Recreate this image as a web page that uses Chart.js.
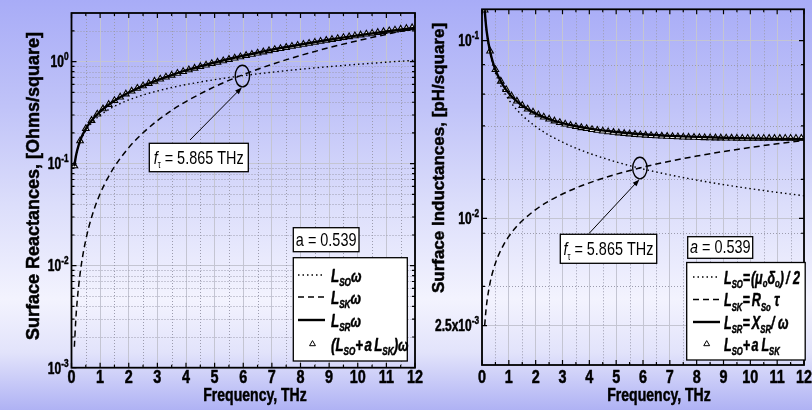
<!DOCTYPE html>
<html>
<head>
<meta charset="utf-8">
<script src="https://cdn.jsdelivr.net/npm/chart.js@4.4.1/dist/chart.umd.min.js"></script>
<style>
  html, body { margin: 0; padding: 0; }
  body {
    width: 812px; height: 410px; overflow: hidden; position: relative;
    background: linear-gradient(to bottom, #a8acf7 0%, #c0c3f8 26%, #dcdefb 50%, #f3f3fe 73%, #e2e3fb 86%, #afb2f4 100%);
  }
  canvas { position: absolute; left: 0; top: 0; }
</style>
</head>
<body>
<canvas id="reactance" width="812" height="410"></canvas>
<canvas id="inductance" width="812" height="410"></canvas>
<script>
// Frequency samples (THz) for the continuous curves
const freqCurve = [0.1, 0.15, 0.2, 0.3, 0.4, 0.5, 0.6, 0.8, 1, 1.25, 1.5, 2, 2.5, 3, 3.5, 4, 5, 6, 7, 8, 9, 10, 11, 12];
// Frequency samples (THz) for the triangle markers
const freqMarks = [0.1, 0.3, 0.5, 0.7, 0.9, 1.1, 1.3, 1.5, 1.7, 1.9, 2.1, 2.3, 2.5, 2.7, 2.9, 3.1, 3.3, 3.5, 3.7, 3.9,
  4.1, 4.3, 4.5, 4.7, 4.9, 5.1, 5.3, 5.5, 5.7, 5.9, 6.1, 6.3, 6.5, 6.7, 6.9, 7.1, 7.3, 7.5, 7.7, 7.9,
  8.1, 8.3, 8.5, 8.7, 8.9, 9.1, 9.3, 9.5, 9.7, 9.9, 10.1, 10.3, 10.5, 10.7, 10.9, 11.1, 11.3, 11.5, 11.7, 11.9];

// Surface reactances, Ohms/square
const reactSO = [0.09424, 0.1154, 0.1333, 0.1632, 0.1885, 0.2107, 0.2308, 0.2665, 0.298, 0.3332, 0.365, 0.4214,
  0.4712, 0.5162, 0.5575, 0.596, 0.6663, 0.7299, 0.7884, 0.8429, 0.894, 0.9424, 0.9884, 1.032];
const reactSK = [0.001607, 0.002952, 0.004545, 0.008349, 0.01285, 0.01796, 0.02361, 0.03636, 0.05081, 0.07101, 0.09334, 0.1437,
  0.2008, 0.264, 0.3327, 0.4065, 0.5681, 0.7468, 0.941, 1.15, 1.372, 1.607, 1.854, 2.112];
const reactSR = [0.09504, 0.1169, 0.1356, 0.1674, 0.195, 0.2199, 0.2429, 0.2853, 0.3244, 0.3703, 0.4142, 0.4982,
  0.5796, 0.6599, 0.7399, 0.8199, 0.9808, 1.143, 1.308, 1.473, 1.64, 1.808, 1.977, 2.146];
const reactMarks = [0.0951, 0.1677, 0.2204, 0.2654, 0.3061, 0.3442, 0.3804, 0.4153, 0.4493, 0.4825,
  0.5152, 0.5475, 0.5794, 0.6112, 0.6427, 0.6742, 0.7055, 0.7368, 0.7681, 0.7994,
  0.8308, 0.8621, 0.8936, 0.9251, 0.9567, 0.9884, 1.020, 1.052, 1.084, 1.116,
  1.149, 1.181, 1.214, 1.246, 1.279, 1.312, 1.345, 1.379, 1.412, 1.446,
  1.479, 1.513, 1.548, 1.582, 1.616, 1.651, 1.686, 1.720, 1.755, 1.791,
  1.826, 1.862, 1.897, 1.933, 1.969, 2.006, 2.042, 2.079, 2.115, 2.152];

// Surface inductances, pH/square
const indSO = [0.147, 0.1201, 0.104, 0.0849, 0.07352, 0.06576, 0.06003, 0.05199, 0.0465, 0.04159, 0.03797, 0.03288,
  0.02941, 0.02685, 0.02486, 0.02325, 0.0208, 0.01898, 0.01758, 0.01644, 0.0155, 0.01471, 0.01402, 0.01342];
const indSK = [0.002507, 0.003071, 0.003546, 0.004343, 0.005014, 0.005606, 0.006141, 0.007091, 0.007928, 0.008864, 0.00971, 0.01121,
  0.01254, 0.01373, 0.01483, 0.01586, 0.01773, 0.01942, 0.02098, 0.02243, 0.02379, 0.02507, 0.0263, 0.02746];
const indSR = [0.1483, 0.1216, 0.1058, 0.0871, 0.07607, 0.06862, 0.06318, 0.05565, 0.05062, 0.04623, 0.04309, 0.03887,
  0.03618, 0.03433, 0.03299, 0.03198, 0.03061, 0.02974, 0.02915, 0.02874, 0.02844, 0.02822, 0.02804, 0.02791];
const indMarks = [0.1484, 0.08724, 0.06878, 0.05915, 0.05307, 0.04882, 0.04566, 0.04320, 0.04124, 0.03963,
  0.03828, 0.03714, 0.03617, 0.03532, 0.03458, 0.03393, 0.03336, 0.03285, 0.03239, 0.03199,
  0.03162, 0.03129, 0.03099, 0.03071, 0.03047, 0.03024, 0.03004, 0.02985, 0.02968, 0.02952,
  0.02938, 0.02925, 0.02913, 0.02903, 0.02893, 0.02884, 0.02876, 0.02868, 0.02862, 0.02856,
  0.02850, 0.02845, 0.02841, 0.02837, 0.02834, 0.02831, 0.02828, 0.02826, 0.02824, 0.02822,
  0.02821, 0.02820, 0.02820, 0.02819, 0.02819, 0.02819, 0.02820, 0.02820, 0.02821, 0.02822];

// Crossover frequency and the values where the two partial curves meet
const fTau = 5.865;
const reactCross = 0.722;
const indCross = 0.0192;
const aFit = '0.539';

// Axis ticks
const freqTicks = [0, 1, 2, 3, 4, 5, 6, 7, 8, 9, 10, 11, 12];
const freqMinor = [0.5, 1.5, 2.5, 3.5, 4.5, 5.5, 6.5, 7.5, 8.5, 9.5, 10.5, 11.5];
const reactMajor = [0.001, 0.01, 0.1, 1];
const reactMinor = [0.002, 0.003, 0.004, 0.005, 0.006, 0.007, 0.008, 0.009,
  0.02, 0.03, 0.04, 0.05, 0.06, 0.07, 0.08, 0.09,
  0.2, 0.3, 0.4, 0.5, 0.6, 0.7, 0.8, 0.9, 2];
const reactLabels = [['10', '-3'], ['10', '-2'], ['10', '-1'], ['10', '0']];
const indMajor = [0.0025, 0.01, 0.1];
const indMinor = [0.00415, 0.00826, 0.0166, 0.0332, 0.05, 0.0733];
const indLabels = [['2.5x10', '-3'], ['10', '-2'], ['10', '-1']];

const FONT = '"Liberation Sans", Arial, Helvetica, sans-serif';

function fontOf(p) { return `${p.st || 'normal'} ${p.s}px ${FONT}`; }

// Draws a run of text pieces (sub/superscripts via dy) on one baseline,
// condensed horizontally by `sq`
function drawRich(ctx, x, y, parts, align, sq) {
  ctx.save();
  ctx.textBaseline = 'alphabetic';
  ctx.textAlign = 'left';
  let w = 0;
  for (const p of parts) { ctx.font = fontOf(p); p._w = ctx.measureText(p.t).width; w += p._w + (p.k || 0); }
  ctx.translate(x, y);
  ctx.scale(sq, 1);
  let cx = align === 'right' ? -w : align === 'center' ? -w / 2 : 0;
  ctx.fillStyle = '#000';
  ctx.strokeStyle = '#000';
  ctx.lineJoin = 'round';
  for (const p of parts) {
    ctx.font = fontOf(p);
    ctx.fillText(p.t, cx, p.dy || 0);
    if ((p.st || '').includes('bold')) { ctx.lineWidth = 0.5; ctx.strokeText(p.t, cx, p.dy || 0); }
    cx += p._w + (p.k || 0);
  }
  ctx.restore();
}

function drawVertical(ctx, x, y, text, size) {
  ctx.save();
  ctx.translate(x, y);
  ctx.rotate(-Math.PI / 2);
  ctx.font = `bold ${size}px ${FONT}`;
  ctx.fillStyle = '#000';
  ctx.strokeStyle = '#000';
  ctx.lineWidth = 0.5;
  ctx.textAlign = 'center';
  ctx.textBaseline = 'middle';
  ctx.fillText(text, 0, 0);
  ctx.strokeText(text, 0, 0);
  ctx.restore();
}

function triangle(ctx, x, y, r) {
  ctx.beginPath();
  ctx.moveTo(x, y - r);
  ctx.lineTo(x + r * 0.866, y + r * 0.5);
  ctx.lineTo(x - r * 0.866, y + r * 0.5);
  ctx.closePath();
  ctx.fillStyle = '#fff';
  ctx.fill();
  ctx.lineWidth = 1;
  ctx.strokeStyle = '#000';
  ctx.setLineDash([]);
  ctx.stroke();
}

function boxRect(ctx, x, y, w, h) {
  ctx.fillStyle = '#fff';
  ctx.fillRect(x, y, w, h);
  ctx.strokeStyle = '#000';
  ctx.lineWidth = 1.3;
  ctx.setLineDash([]);
  ctx.strokeRect(x, y, w, h);
}

const DOT = [1.5, 3];
const DASH = [6, 4];

function sub(t, dy) { return { t, s: 11, st: 'italic bold', dy: dy === undefined ? 4.5 : dy }; }
function it(t, s, k) { return { t, s: s || 18, st: 'italic bold', k: k || 0 }; }

function makePanel(id, cfg) {
  const decor = {
    id: 'decor_' + id,
    beforeDatasetsDraw(chart) {
      const ctx = chart.ctx, xs = chart.scales.x, ys = chart.scales.y, a = chart.chartArea;
      ctx.save();
      ctx.strokeStyle = '#9c9cae';
      ctx.lineWidth = 1;
      ctx.setLineDash([1, 2]);
      ctx.beginPath();
      freqMinor.forEach(v => { const p = Math.round(xs.getPixelForValue(v)) + 0.5; ctx.moveTo(p, a.top); ctx.lineTo(p, a.bottom); });
      cfg.yMinor.forEach(v => { const p = Math.round(ys.getPixelForValue(v)) + 0.5; ctx.moveTo(a.left, p); ctx.lineTo(a.right, p); });
      ctx.stroke();
      ctx.restore();
    },
    afterDatasetsDraw(chart) {
      const ctx = chart.ctx, xs = chart.scales.x, ys = chart.scales.y, a = chart.chartArea;
      ctx.save();
      // frame
      ctx.setLineDash([]);
      ctx.strokeStyle = '#000';
      ctx.lineWidth = 1.8;
      ctx.strokeRect(a.left, a.top, a.right - a.left, a.bottom - a.top);
      // inward tick marks on all four sides
      ctx.lineWidth = 1.2;
      ctx.beginPath();
      const xt = (v, len) => { const p = xs.getPixelForValue(v); ctx.moveTo(p, a.bottom); ctx.lineTo(p, a.bottom - len); ctx.moveTo(p, a.top); ctx.lineTo(p, a.top + len); };
      const yt = (v, len) => { const p = ys.getPixelForValue(v); ctx.moveTo(a.left, p); ctx.lineTo(a.left + len, p); ctx.moveTo(a.right, p); ctx.lineTo(a.right - len, p); };
      freqTicks.forEach(v => xt(v, 5));
      freqMinor.forEach(v => xt(v, 3));
      cfg.yMajor.forEach(v => yt(v, 5));
      cfg.yMinor.forEach(v => yt(v, 3));
      ctx.stroke();

      // tick labels
      freqTicks.forEach(v => drawRich(ctx, xs.getPixelForValue(v), 383, [{ t: String(v), s: 18, st: 'bold' }], 'center', 0.8));
      cfg.yMajor.forEach((v, i) => {
        const p = ys.getPixelForValue(v);
        const lab = cfg.yLabels[i];
        drawRich(ctx, cfg.yLabelRight, p + 5.8, [{ t: lab[0], s: 16, st: 'bold' }, { t: lab[1], s: 11, st: 'bold', dy: -7 }], 'right', 0.75);
      });

      // axis titles
      drawRich(ctx, cfg.xTitleX, 400.5, [{ t: 'Frequency, THz', s: 18, st: 'bold' }], 'center', 0.78);
      drawVertical(ctx, cfg.yTitle.x, cfg.yTitle.y, cfg.yTitle.text, cfg.yTitle.size);

      // crossover marker, arrow and label
      const cx = xs.getPixelForValue(fTau) + cfg.ring.dx;
      const cy = ys.getPixelForValue(cfg.cross);
      ctx.setLineDash([]);
      ctx.strokeStyle = '#000';
      ctx.lineWidth = 1.4;
      ctx.beginPath();
      ctx.ellipse(cx, cy, cfg.ring.rx, cfg.ring.ry, 0, 0, Math.PI * 2);
      ctx.stroke();
      const hx = cx - 0.5, hy = cy + cfg.ring.ry + 0.5;
      const tx = cfg.arrowTail[0], ty = cfg.arrowTail[1];
      const ang = Math.atan2(hy - ty, hx - tx);
      ctx.lineWidth = 1;
      ctx.beginPath();
      ctx.moveTo(tx, ty);
      ctx.lineTo(hx - 5 * Math.cos(ang), hy - 5 * Math.sin(ang));
      ctx.stroke();
      ctx.beginPath();
      ctx.moveTo(hx, hy);
      ctx.lineTo(hx - 7 * Math.cos(ang) + 2.6 * Math.sin(ang), hy - 7 * Math.sin(ang) - 2.6 * Math.cos(ang));
      ctx.lineTo(hx - 7 * Math.cos(ang) - 2.6 * Math.sin(ang), hy - 7 * Math.sin(ang) + 2.6 * Math.cos(ang));
      ctx.closePath();
      ctx.fillStyle = '#000';
      ctx.fill();

      const fb = cfg.fBox;
      boxRect(ctx, fb.x, fb.y, fb.w, fb.h);
      drawRich(ctx, fb.x + fb.w / 2, fb.y + fb.h - 8, [
        { t: 'f', s: 19, st: 'italic' }, { t: 'τ', s: 10, dy: 4.5, k: 5 },
        { t: '= 5.865 THz', s: 19 }], 'center', 0.76);

      const ab = cfg.aBox;
      boxRect(ctx, ab.x, ab.y, ab.w, ab.h);
      drawRich(ctx, ab.x + ab.w / 2, ab.y + ab.h - 5.5, [
        { t: 'a', s: 19, st: cfg.aItalic ? 'italic' : 'normal' }, { t: ' = ' + aFit, s: 19 }], 'center', 0.76);

      // legend
      const lg = cfg.legend;
      boxRect(ctx, lg.x, lg.y, lg.w, lg.h);
      lg.rows.forEach((row, i) => {
        const ry = lg.rowY[i];
        if (row.marker) {
          triangle(ctx, lg.markX, ry, 3.4);
        } else {
          ctx.save();
          ctx.strokeStyle = '#000';
          ctx.lineWidth = row.w;
          ctx.setLineDash(row.dash);
          ctx.beginPath();
          ctx.moveTo(lg.lineX0, ry);
          ctx.lineTo(lg.lineX1, ry);
          ctx.stroke();
          ctx.restore();
        }
        drawRich(ctx, lg.textX, ry + 6.5, row.parts, 'left', lg.sq);
      });
      ctx.restore();
    }
  };

  const curve = (vals, dash, width) => ({
    data: freqCurve.map((f, i) => ({ x: f, y: vals[i] })),
    borderColor: '#000', borderWidth: width, borderDash: dash,
    pointRadius: 0, fill: false, cubicInterpolationMode: 'monotone'
  });

  return new Chart(document.getElementById(id), {
    type: 'line',
    data: {
      datasets: [
        curve(cfg.so, DOT, 1.4),
        curve(cfg.sk, DASH, 1.5),
        curve(cfg.sr, [], 2.4),
        {
          data: freqMarks.map((f, i) => ({ x: f, y: cfg.marks[i] })),
          showLine: false, pointStyle: 'triangle', pointRadius: 3.8,
          pointBackgroundColor: '#fff', pointBorderColor: '#000', pointBorderWidth: 1.1
        }
      ]
    },
    options: {
      responsive: false,
      animation: false,
      devicePixelRatio: 1,
      events: [],
      layout: { padding: cfg.padding },
      plugins: { legend: { display: false }, tooltip: { enabled: false } },
      scales: {
        x: {
          type: 'linear', min: 0, max: 12,
          ticks: { stepSize: 1, display: false },
          grid: { color: '#c4c5d2', lineWidth: 1, drawTicks: false },
          border: { display: false },
          afterFit(s) { s.height = cfg.xAxisHeight; }
        },
        y: {
          type: 'logarithmic', min: cfg.yMin, max: cfg.yMax,
          ticks: { display: false },
          grid: { color: '#c4c5d2', lineWidth: 1, drawTicks: false },
          border: { display: false },
          afterBuildTicks(s) { s.ticks = cfg.yMajor.map(v => ({ value: v })); },
          afterFit(s) { s.width = cfg.yAxisWidth; }
        }
      }
    },
    plugins: [decor]
  });
}

// Left panel: surface reactances
makePanel('reactance', {
  so: reactSO, sk: reactSK, sr: reactSR, marks: reactMarks,
  yMin: 0.001, yMax: 3, yMajor: reactMajor, yMinor: reactMinor, yLabels: reactLabels,
  padding: { left: 0, top: 13, right: 397, bottom: 0 },
  yAxisWidth: 71.5, xAxisHeight: 42.3,
  yLabelRight: 68.5, xTitleX: 255,
  yTitle: { x: 34, y: 186, text: 'Surface Reactances, [Ohms/square]', size: 18 },
  cross: reactCross, ring: { dx: 3, rx: 7.2, ry: 10.8 },
  arrowTail: [190, 140],
  fBox: { x: 149.3, y: 143.3, w: 99, h: 28.4 },
  aBox: { x: 293.3, y: 227.7, w: 65.7, h: 24 }, aItalic: false,
  legend: {
    x: 293.3, y: 257.7, w: 114, h: 103.3, sq: 0.74,
    rowY: [275, 297, 320, 344], lineX0: 298, lineX1: 325, markX: 312.5, textX: 331,
    rows: [
      { dash: DOT, w: 1.4, parts: [it('L'), sub('SO'), it('ω', 17)] },
      { dash: DASH, w: 1.5, parts: [it('L'), sub('SK'), it('ω', 17)] },
      { dash: [], w: 2.4, parts: [it('L'), sub('SR'), it('ω', 17)] },
      { marker: true, parts: [it('('), it('L'), sub('SO'), it('+', 18, 2), it('a', 18, 3), it('L'), sub('SK'), it(')'), it('ω', 17)] }
    ]
  }
});

// Right panel: surface inductances
makePanel('inductance', {
  so: indSO, sk: indSK, sr: indSR, marks: indMarks,
  yMin: 0.0015, yMax: 0.15, yMajor: indMajor, yMinor: indMinor, yLabels: indLabels,
  padding: { left: 0, top: 9.3, right: 8, bottom: 0 },
  yAxisWidth: 482, xAxisHeight: 45,
  yLabelRight: 479, xTitleX: 659,
  yTitle: { x: 439.5, y: 158, text: 'Surface Inductances, [pH/square]', size: 17 },
  cross: indCross, ring: { dx: 0.5, rx: 7.2, ry: 10.8 },
  arrowTail: [589, 233.5],
  fBox: { x: 560.3, y: 234.3, w: 96.4, h: 29 },
  aBox: { x: 687.7, y: 236.7, w: 65, h: 21.6 }, aItalic: true,
  legend: {
    x: 686.7, y: 262.5, w: 118.5, h: 97.5, sq: 0.7,
    rowY: [277, 299.5, 322, 344], lineX0: 693, lineX1: 720, markX: 706.7, textX: 724,
    rows: [
      { dash: DOT, w: 1.4, parts: [it('L'), sub('SO'), it('=', 18, 1), it('('), it('μ'), sub('o', 3), it('δ'), sub('o', 3), it(')', 18, 3), it('/ 2')] },
      { dash: DASH, w: 1.5, parts: [it('L'), sub('SK'), it('=', 18, 3), it('R'), sub('So'), it(' τ')] },
      { dash: [], w: 2.4, parts: [it('L'), sub('SR'), it('=', 18, 3), it('X'), sub('SR'), it('/ ω')] },
      { marker: true, parts: [it('L'), sub('SO'), it('+', 18, 2), it('a', 18, 4), it('L'), sub('SK')] }
    ]
  }
});
</script>
</body>
</html>
